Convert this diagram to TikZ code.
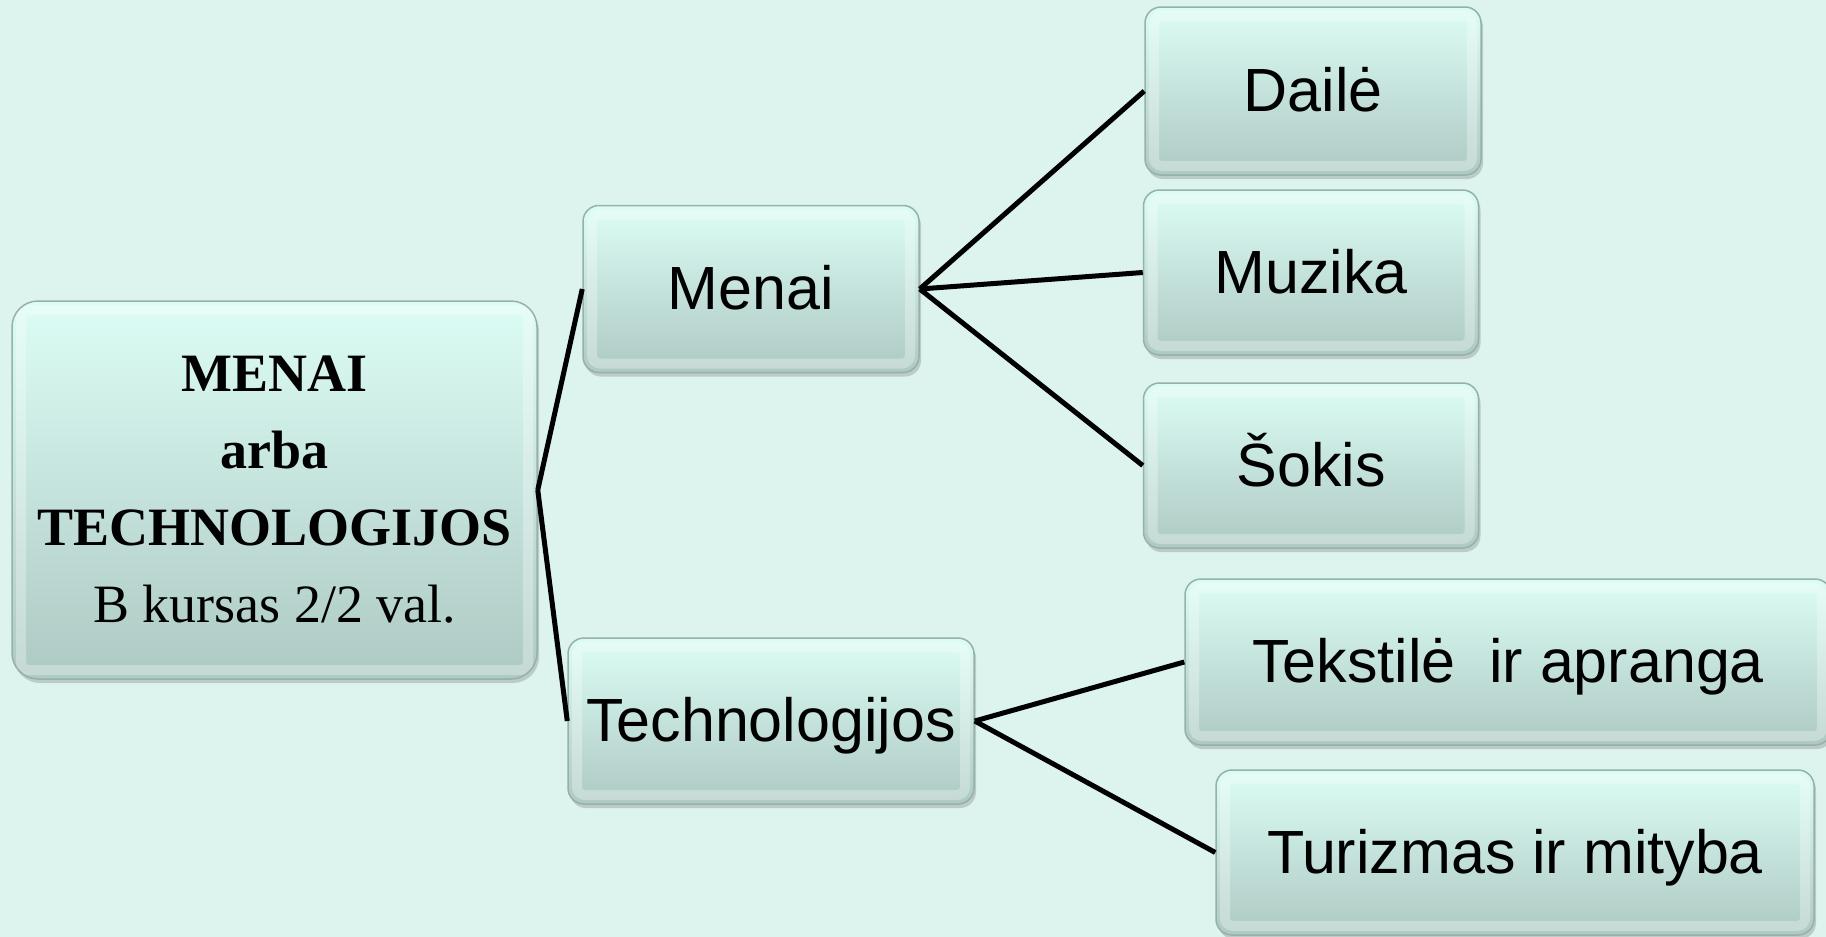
\documentclass[tikz,border=0pt]{standalone}
\usepackage{fontspec}
\setmainfont{Liberation Serif}
\newfontfamily\arialf{Liberation Sans}
\usetikzlibrary{shadows}
\definecolor{bgmint}{HTML}{DDF4EE}
\definecolor{cardtop}{HTML}{DCFDF5}
\definecolor{cardbot}{HTML}{ADC9C3}
\definecolor{cardline}{HTML}{97B0AA}

\tikzset{
  card/.style={rectangle,rounded corners=16pt,inner sep=0pt,align=center,
    top color=cardtop,bottom color=cardbot,draw=cardline,line width=1.5pt,
    drop shadow={opacity=0.35,shadow xshift=2pt,shadow yshift=-4pt},
    path picture={
      \draw[white,opacity=0.3,line width=10pt,rounded corners=8pt]
        ([shift={(9pt,-9pt)}]path picture bounding box.north west)
        rectangle ([shift={(-9pt,9pt)}]path picture bounding box.south east);},
    font=\arialf\fontsize{61}{70}\selectfont},
  word/.style={card,text height=50pt,text depth=9pt},
  link/.style={line width=5pt,black}
}

\begin{document}
\begin{tikzpicture}[x=1pt,y=-1pt]
    \fill[bgmint](0,0) rectangle (1826,937);
    \useasboundingbox (0,0) rectangle (1826,937);
    % root
    \node[card,rounded corners=26pt,minimum width=525pt,minimum height=378pt,
      font=\fontsize{54}{77}\selectfont] (root) at (274.5,490)
      {\textbf{MENAI}\\ \textbf{arba}\\ \textbf{TECHNOLOGIJOS}\\ B kursas 2/2 val.};
    % middle level
    \node[word,minimum width=336pt,minimum height=167pt] (menai) at (751,289) {Menai};
    \node[word,minimum width=406pt,minimum height=166pt] (tech) at (771,721) {Technologijos};
    % leaves
    \node[word,minimum width=336pt,minimum height=168pt] (daile) at (1313,91) {Dailė};
    \node[word,minimum width=335pt,minimum height=165pt] (muzika) at (1311,272.5) {Muzika};
    \node[word,minimum width=335pt,minimum height=165pt] (sokis) at (1311,465.5) {Šokis};
    \node[word,minimum width=646pt,minimum height=166pt] (tekstile) at (1508,662) {Tekstilė~ ir apranga};
    \node[word,minimum width=598pt,minimum height=165pt] (turizmas) at (1515,852.5) {Turizmas ir mityba};
    % connectors
    \draw[link](root.east)--(menai.west);
    \draw[link](root.east)--(tech.west);
    \draw[link](menai.east)--(daile.west);
    \draw[link](menai.east)--(muzika.west);
    \draw[link](menai.east)--(sokis.west);
    \draw[link](tech.east)--(tekstile.west);
    \draw[link](tech.east)--(turizmas.west);
\end{tikzpicture}
\end{document}
